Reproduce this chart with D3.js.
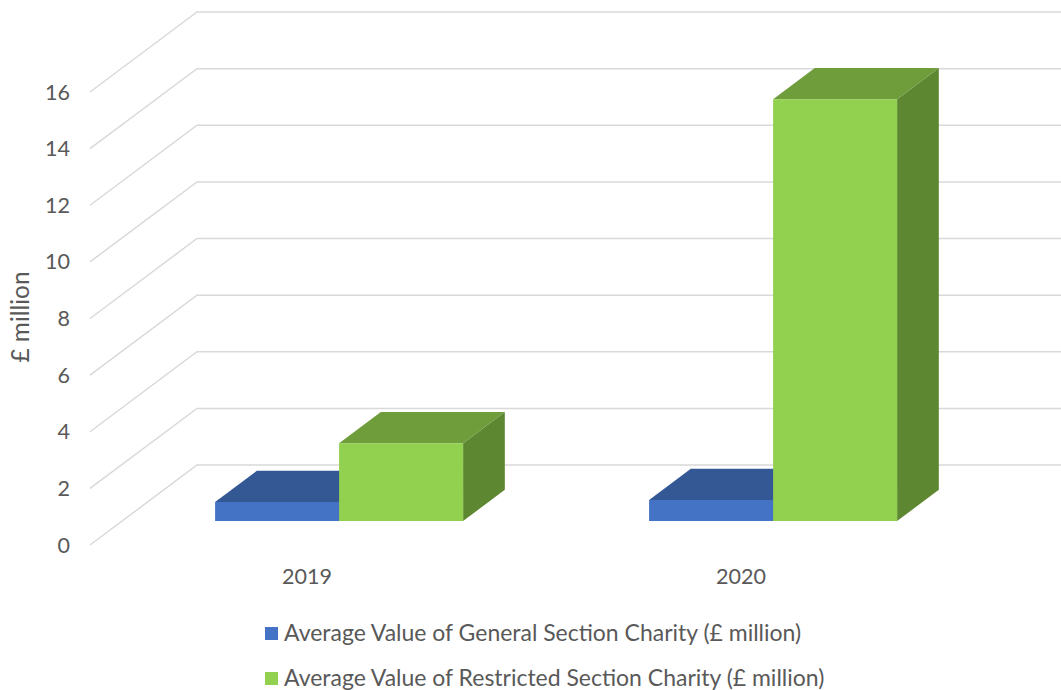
<!DOCTYPE html>
<html>
<head>
<meta charset="utf-8">
<script src="https://cdn.jsdelivr.net/npm/d3@7"></script>
<style>
  html, body { margin: 0; padding: 0; background: #fff; }
  svg { display: block; font-family: Lato, "Open Sans", sans-serif; }
</style>
</head>
<body>
<svg id="chart" width="1061" height="690"></svg>
<script>
// Chart data
const categories = ["2019", "2020"];
const seriesNames = [
  "Average Value of General Section Charity (£ million)",
  "Average Value of Restricted Section Charity (£ million)"
];
const generalValues = [0.67, 0.74];
const restrictedValues = [2.75, 14.9];
const yTicks = [0, 2, 4, 6, 8, 10, 12, 14, 16];
const seriesValues = [generalValues, restrictedValues];

// Colours per series: front, top, side
const seriesColors = [
  { front: "#4472C4", top: "#345894", side: "#2F5090" },
  { front: "#92D050", top: "#6F9D3B", side: "#5E8731" }
];

const svg = d3.select("#chart");
const W = 1061;
const textColor = "#595959";

// Scale a text element's font size so its rendered width equals `target` px
function fitWidth(sel, target) {
  sel.each(function () {
    const fs = parseFloat(this.getAttribute("font-size"));
    const w = this.getComputedTextLength();
    if (w > 0) this.setAttribute("font-size", (fs * target / w).toFixed(2));
  });
}

// Oblique 3D projection: depth d in [0,1] shifts points up and right
const DX = 107, DY = -80;
const x = d3.scaleBand().domain(categories).range([90, 958]);
const y = d3.scaleLinear().domain([0, 16]).range([545, 92]);
const barWidth = 124;
const inner = d3.scaleBand().domain(d3.range(seriesNames.length))
  .range([-barWidth, barWidth]);
const dFront = 0.3, dBack = 0.69;

const P = (px, v, d) => [px + d * DX, y(v) + d * DY];

// Gridlines: back wall and left side wall
const grid = svg.append("g").attr("stroke", "#d9d9d9").attr("stroke-width", 1.5).attr("fill", "none");
yTicks.forEach(t => {
  const a = P(x.range()[0], t, 0), b = P(x.range()[0], t, 1);
  grid.append("path").attr("d", d3.line()([a, b, [W, b[1]]]));
});

// Tick labels
const tickText = svg.append("g").selectAll("text").data(yTicks).join("text")
  .attr("x", 70).attr("y", d => y(d)).attr("dy", "0.35em")
  .attr("text-anchor", "end").attr("fill", textColor).attr("font-size", 20)
  .text(d => d);
const ref = tickText.filter(d => d === 16);
fitWidth(ref, 25);
const tickSize = ref.attr("font-size");
tickText.attr("font-size", tickSize);

// Axis title
const title = svg.append("text")
  .attr("transform", "translate(29,317) rotate(-90)")
  .attr("text-anchor", "middle").attr("fill", textColor).attr("font-size", tickSize)
  .text("£ million");
fitWidth(title, 91);

// Category labels
svg.append("g").selectAll("text").data(categories).join("text")
  .attr("x", d => x(d) + x.bandwidth() / 2).attr("y", 584)
  .attr("text-anchor", "middle").attr("fill", textColor).attr("font-size", tickSize)
  .text(d => d);

// 3D bars
const bars = svg.append("g");
const poly = pts => "M" + pts.map(p => p.join(",")).join("L") + "Z";
categories.forEach((c, ci) => {
  const cx = x(c) + x.bandwidth() / 2;
  seriesValues.forEach((vals, si) => {
    const v = vals[ci];
    const x0 = cx + inner(si), x1 = x0 + inner.bandwidth();
    const col = seriesColors[si];
    const g = bars.append("g");
    // right side
    g.append("path").attr("fill", col.side)
      .attr("d", poly([P(x1, 0, dFront), P(x1, v, dFront), P(x1, v, dBack), P(x1, 0, dBack)]));
    // top
    g.append("path").attr("fill", col.top)
      .attr("d", poly([P(x0, v, dFront), P(x1, v, dFront), P(x1, v, dBack), P(x0, v, dBack)]));
    // front
    g.append("path").attr("fill", col.front)
      .attr("d", poly([P(x0, 0, dFront), P(x1, 0, dFront), P(x1, v, dFront), P(x0, v, dFront)]));
  });
});

// Legend
const legend = svg.append("g");
const legendText = [];
seriesNames.forEach((name, i) => {
  const ly = 633 + i * 45;
  legend.append("rect").attr("x", 265).attr("y", ly - 6).attr("width", 13).attr("height", 13)
    .attr("fill", seriesColors[i].front);
  legendText.push(legend.append("text").attr("x", 284).attr("y", ly).attr("dy", "0.35em")
    .attr("fill", textColor).attr("font-size", 20)
    .text(name));
});
fitWidth(legendText[0], 517);
legendText[1].attr("font-size", legendText[0].attr("font-size"));
</script>
</body>
</html>
